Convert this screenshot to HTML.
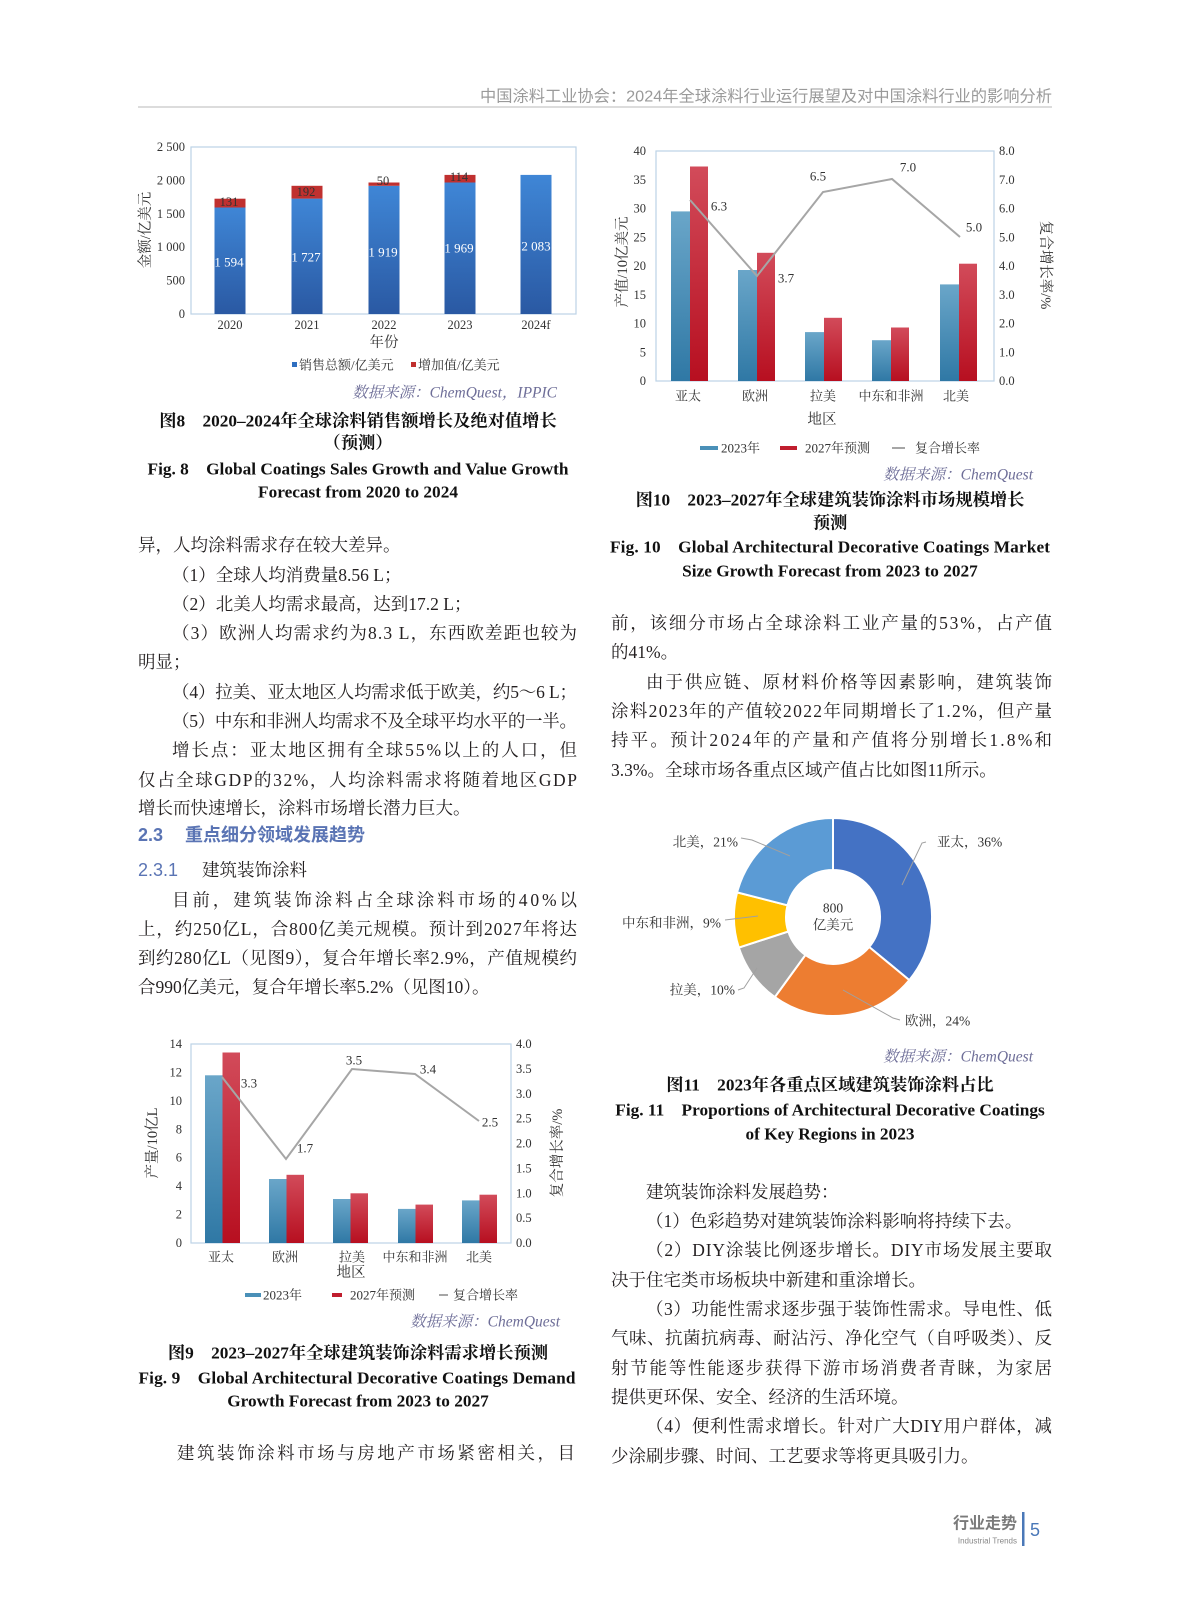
<!DOCTYPE html>
<html><head><meta charset="utf-8">
<style>
html,body{margin:0;padding:0;background:#fff;}
svg{display:block;}
.b{font-family:"Liberation Serif","Noto Serif CJK SC",serif;font-size:17.5px;fill:#231f20;}
.s{font-family:"Liberation Serif","Noto Serif CJK SC",serif;font-size:12.5px;fill:#333;}
.cap{font-family:"Liberation Serif","Noto Serif CJK SC",serif;font-size:17.3px;font-weight:bold;fill:#111;}
.src{font-family:"Liberation Serif","Noto Serif CJK SC",serif;font-size:15.5px;fill:#6e6e98;font-style:italic;}
.h{font-family:"Liberation Sans","Noto Sans CJK SC",sans-serif;}
</style></head>
<body>
<svg width="1187" height="1600" viewBox="0 0 1187 1600" xmlns="http://www.w3.org/2000/svg">
<defs>
<linearGradient id="gb8" x1="0" y1="0" x2="0" y2="1"><stop offset="0" stop-color="#3f86d6"/><stop offset="1" stop-color="#2a59a3"/></linearGradient>
<linearGradient id="gbl" x1="0" y1="0" x2="0" y2="1"><stop offset="0" stop-color="#6aa6c9"/><stop offset="1" stop-color="#2f78a5"/></linearGradient>
<linearGradient id="grd" x1="0" y1="0" x2="0" y2="1"><stop offset="0" stop-color="#d24b5a"/><stop offset="1" stop-color="#b70f20"/></linearGradient>
</defs>

<!-- header -->
<text x="1052" y="97" text-anchor="end" dominant-baseline="central" class="h" font-size="16" fill="#9a9a9a" textLength="572" lengthAdjust="spacingAndGlyphs">中国涂料工业协会：2024年全球涂料行业运行展望及对中国涂料行业的影响分析</text>
<line x1="138" y1="107" x2="1052" y2="107" stroke="#d0d0d0" stroke-width="1.5"/>

<!-- ============ FIG 8 ============ -->
<rect x="191" y="147" width="385" height="167" fill="none" stroke="#bcd3e6" stroke-width="1.2"/>
<g class="s" text-anchor="end" dominant-baseline="central">
<text x="185" y="147">2 500</text><text x="185" y="180.4">2 000</text><text x="185" y="213.8">1 500</text>
<text x="185" y="247.2">1 000</text><text x="185" y="280.6">500</text><text x="185" y="314">0</text>
</g>
<g>
<rect x="214.5" y="207.5" width="31" height="106.5" fill="url(#gb8)"/><rect x="214.5" y="198.7" width="31" height="8.8" fill="#c0302f"/>
<rect x="291.5" y="198.6" width="31" height="115.4" fill="url(#gb8)"/><rect x="291.5" y="185.8" width="31" height="12.8" fill="#c0302f"/>
<rect x="368.5" y="185.8" width="31" height="128.2" fill="url(#gb8)"/><rect x="368.5" y="182.5" width="31" height="3.3" fill="#c0302f"/>
<rect x="444.5" y="182.5" width="31" height="131.5" fill="url(#gb8)"/><rect x="444.5" y="174.9" width="31" height="7.6" fill="#c0302f"/>
<rect x="520.5" y="174.9" width="31" height="139.1" fill="url(#gb8)"/>
</g>
<g class="s" text-anchor="middle" dominant-baseline="central">
<text x="229" y="262" style="fill:#fff;font-size:13px">1 594</text><text x="306" y="257" style="fill:#fff;font-size:13px">1 727</text><text x="383" y="252" style="fill:#fff;font-size:13px">1 919</text><text x="459" y="248" style="fill:#fff;font-size:13px">1 969</text><text x="536" y="246" style="fill:#fff;font-size:13px">2 083</text>
</g>
<g class="s" text-anchor="middle" dominant-baseline="central">
<text x="229" y="202">131</text><text x="306" y="192">192</text><text x="383" y="181">50</text><text x="459" y="177">114</text>
<text x="230" y="325">2020</text><text x="307" y="325">2021</text><text x="384" y="325">2022</text><text x="460" y="325">2023</text><text x="536" y="325">2024f</text>
<text x="384" y="343" style="font-size:14.5px">年份</text>
</g>
<text transform="translate(146,230) rotate(-90)" class="s" style="font-size:14.5px" text-anchor="middle" dominant-baseline="central">金额/亿美元</text>
<rect x="292" y="362" width="5" height="5" fill="#2f6fc0"/>
<text x="299" y="365" class="s" style="font-size:13px" dominant-baseline="central">销售总额/亿美元</text>
<rect x="411" y="362" width="5" height="5" fill="#c0302f"/>
<text x="418" y="365" class="s" style="font-size:13px" dominant-baseline="central">增加值/亿美元</text>
<text x="557" y="393" class="src" text-anchor="end" dominant-baseline="central">数据来源：ChemQuest，IPPIC</text>
<text x="358" y="421" class="cap" text-anchor="middle" dominant-baseline="central">图8　2020–2024年全球涂料销售额增长及绝对值增长</text>
<text x="358" y="443" class="cap" text-anchor="middle" dominant-baseline="central">（预测）</text>
<text x="358" y="469" class="cap" text-anchor="middle" dominant-baseline="central">Fig. 8　Global Coatings Sales Growth and Value Growth</text>
<text x="358" y="492" class="cap" text-anchor="middle" dominant-baseline="central">Forecast from 2020 to 2024</text>

<!-- ============ FIG 10 ============ -->
<rect x="656" y="151" width="338" height="230" fill="none" stroke="#bcd3e6" stroke-width="1.2"/>
<g class="s" text-anchor="end" dominant-baseline="central">
<text x="646" y="151">40</text><text x="646" y="179.75">35</text><text x="646" y="208.5">30</text><text x="646" y="237.25">25</text><text x="646" y="266">20</text><text x="646" y="294.75">15</text><text x="646" y="323.5">10</text><text x="646" y="352.25">5</text><text x="646" y="381">0</text>
</g>
<g class="s" dominant-baseline="central">
<text x="999" y="151">8.0</text><text x="999" y="179.75">7.0</text><text x="999" y="208.5">6.0</text><text x="999" y="237.25">5.0</text><text x="999" y="266">4.0</text><text x="999" y="294.75">3.0</text><text x="999" y="323.5">2.0</text><text x="999" y="352.25">1.0</text><text x="999" y="381">0.0</text>
</g>
<g>
<rect x="671" y="211.4" width="19" height="169.6" fill="url(#gbl)"/><rect x="690" y="166.5" width="18" height="214.5" fill="url(#grd)"/>
<rect x="738" y="270" width="19" height="111" fill="url(#gbl)"/><rect x="757" y="252.8" width="18" height="128.2" fill="url(#grd)"/>
<rect x="805" y="332.1" width="19" height="48.9" fill="url(#gbl)"/><rect x="824" y="317.8" width="18" height="63.2" fill="url(#grd)"/>
<rect x="872" y="340.2" width="19" height="40.8" fill="url(#gbl)"/><rect x="891" y="327.5" width="18" height="53.5" fill="url(#grd)"/>
<rect x="940" y="284.4" width="19" height="96.6" fill="url(#gbl)"/><rect x="959" y="263.7" width="18" height="117.3" fill="url(#grd)"/>
</g>
<polyline points="690,200 757,276 823,192 892,179 960,237" fill="none" stroke="#a6a6a6" stroke-width="2"/>
<g class="s" style="font-size:13px" text-anchor="middle" dominant-baseline="central">
<text x="719" y="206">6.3</text><text x="786" y="278">3.7</text><text x="818" y="176">6.5</text><text x="908" y="167">7.0</text><text x="974" y="227">5.0</text>
<text x="688" y="396">亚太</text><text x="755" y="396">欧洲</text><text x="823" y="396">拉美</text><text x="891" y="396">中东和非洲</text><text x="956" y="396">北美</text>
<text x="822" y="420" style="font-size:14.5px">地区</text>
</g>
<text transform="translate(623,262) rotate(-90)" class="s" style="font-size:14.5px" text-anchor="middle" dominant-baseline="central">产值/10亿美元</text>
<text transform="translate(1045,265) rotate(90)" class="s" style="font-size:14.5px" text-anchor="middle" dominant-baseline="central">复合增长率/%</text>
<rect x="700" y="446" width="18" height="4" fill="#4a90b8"/><text x="721" y="448" class="s" style="font-size:13px" dominant-baseline="central">2023年</text>
<rect x="780" y="446" width="17" height="4" fill="#c01e2e"/><text x="805" y="448" class="s" style="font-size:13px" dominant-baseline="central">2027年预测</text>
<rect x="892" y="447" width="13" height="2" fill="#a6a6a6"/><text x="915" y="448" class="s" style="font-size:13px" dominant-baseline="central">复合增长率</text>
<text x="1033" y="475" class="src" text-anchor="end" dominant-baseline="central">数据来源：ChemQuest</text>
<text x="830" y="500" class="cap" text-anchor="middle" dominant-baseline="central">图10　2023–2027年全球建筑装饰涂料市场规模增长</text>
<text x="830" y="523" class="cap" text-anchor="middle" dominant-baseline="central">预测</text>
<text x="830" y="547" class="cap" text-anchor="middle" dominant-baseline="central" textLength="440" lengthAdjust="spacing">Fig. 10　Global Architectural Decorative Coatings Market</text>
<text x="830" y="571" class="cap" text-anchor="middle" dominant-baseline="central">Size Growth Forecast from 2023 to 2027</text>

<!-- ============ PIE FIG 11 ============ -->
<g stroke="#fff" stroke-width="2">
<path d="M833,818 A99,99 0 0 1 909.3,980.1 L869.2,947 A47,47 0 0 0 833,870 Z" fill="#4472c4"/>
<path d="M909.3,980.1 A99,99 0 0 1 774.8,997.1 L805.4,955 A47,47 0 0 0 869.2,947 Z" fill="#ed7d31"/>
<path d="M774.8,997.1 A99,99 0 0 1 738.8,947.6 L788.3,931.5 A47,47 0 0 0 805.4,955 Z" fill="#a5a5a5"/>
<path d="M738.8,947.6 A99,99 0 0 1 737.1,892.4 L787.5,905.3 A47,47 0 0 0 788.3,931.5 Z" fill="#ffc000"/>
<path d="M737.1,892.4 A99,99 0 0 1 833,818 L833,870 A47,47 0 0 0 787.5,905.3 Z" fill="#5b9bd5"/>
</g>
<g stroke="#a0a0a0" stroke-width="1" fill="none">
<polyline points="741,838 752,840 790,856"/>
<polyline points="926,842 922,843 902,885"/>
<polyline points="725,920 758,916"/>
<polyline points="738,990 744,988 757,968"/>
<polyline points="900,1020 893,1018 843,990"/>
</g>
<g class="s" style="font-size:13.5px" dominant-baseline="central">
<text x="738" y="842" text-anchor="end">北美，21%</text>
<text x="937" y="842">亚太，36%</text>
<text x="721" y="923" text-anchor="end">中东和非洲，9%</text>
<text x="735" y="990" text-anchor="end">拉美，10%</text>
<text x="905" y="1021">欧洲，24%</text>
<text x="833" y="908" text-anchor="middle">800</text>
<text x="833" y="925" text-anchor="middle">亿美元</text>
</g>
<text x="1033" y="1057" class="src" text-anchor="end" dominant-baseline="central">数据来源：ChemQuest</text>
<text x="830" y="1085" class="cap" text-anchor="middle" dominant-baseline="central">图11　2023年各重点区域建筑装饰涂料占比</text>
<text x="830" y="1110" class="cap" text-anchor="middle" dominant-baseline="central">Fig. 11　Proportions of Architectural Decorative Coatings</text>
<text x="830" y="1134" class="cap" text-anchor="middle" dominant-baseline="central">of Key Regions in 2023</text>

<!-- ============ FIG 9 ============ -->
<rect x="191" y="1044" width="320" height="199" fill="none" stroke="#bcd3e6" stroke-width="1.2"/>
<g class="s" text-anchor="end" dominant-baseline="central">
<text x="182" y="1044">14</text><text x="182" y="1072.4">12</text><text x="182" y="1100.9">10</text><text x="182" y="1129.3">8</text><text x="182" y="1157.7">6</text><text x="182" y="1186.1">4</text><text x="182" y="1214.6">2</text><text x="182" y="1243">0</text>
</g>
<g class="s" dominant-baseline="central">
<text x="516" y="1044">4.0</text><text x="516" y="1068.9">3.5</text><text x="516" y="1093.8">3.0</text><text x="516" y="1118.6">2.5</text><text x="516" y="1143.5">2.0</text><text x="516" y="1168.4">1.5</text><text x="516" y="1193.3">1.0</text><text x="516" y="1218.1">0.5</text><text x="516" y="1243">0.0</text>
</g>
<g>
<rect x="205" y="1075.3" width="17.5" height="167.7" fill="url(#gbl)"/><rect x="222.5" y="1052.5" width="17.5" height="190.5" fill="url(#grd)"/>
<rect x="269" y="1179" width="17.5" height="64" fill="url(#gbl)"/><rect x="286.5" y="1174.8" width="17.5" height="68.2" fill="url(#grd)"/>
<rect x="333" y="1199" width="17.5" height="44" fill="url(#gbl)"/><rect x="350.5" y="1193.3" width="17.5" height="49.7" fill="url(#grd)"/>
<rect x="398" y="1208.9" width="17.5" height="34.1" fill="url(#gbl)"/><rect x="415.5" y="1204.6" width="17.5" height="38.4" fill="url(#grd)"/>
<rect x="462" y="1200.4" width="17.5" height="42.6" fill="url(#gbl)"/><rect x="479.5" y="1194.7" width="17.5" height="48.3" fill="url(#grd)"/>
</g>
<polyline points="222,1077 286,1159 352,1069 415,1074 479,1121" fill="none" stroke="#a6a6a6" stroke-width="2"/>
<g class="s" style="font-size:13px" text-anchor="middle" dominant-baseline="central">
<text x="249" y="1083">3.3</text><text x="305" y="1148">1.7</text><text x="354" y="1060">3.5</text><text x="428" y="1069">3.4</text><text x="490" y="1122">2.5</text>
<text x="221" y="1257">亚太</text><text x="285" y="1257">欧洲</text><text x="352" y="1257">拉美</text><text x="415" y="1257">中东和非洲</text><text x="479" y="1257">北美</text>
<text x="351" y="1273" style="font-size:14.5px">地区</text>
</g>
<text transform="translate(153,1143) rotate(-90)" class="s" style="font-size:14.5px" text-anchor="middle" dominant-baseline="central">产量/10亿L</text>
<text transform="translate(558,1153) rotate(-90)" class="s" style="font-size:14.5px" text-anchor="middle" dominant-baseline="central">复合增长率/%</text>
<rect x="245" y="1293" width="16" height="4" fill="#4a90b8"/><text x="263" y="1295" class="s" style="font-size:13px" dominant-baseline="central">2023年</text>
<rect x="332" y="1293" width="10" height="4" fill="#c01e2e"/><text x="350" y="1295" class="s" style="font-size:13px" dominant-baseline="central">2027年预测</text>
<rect x="439" y="1294" width="9" height="2" fill="#a6a6a6"/><text x="453" y="1295" class="s" style="font-size:13px" dominant-baseline="central">复合增长率</text>
<text x="560" y="1322" class="src" text-anchor="end" dominant-baseline="central">数据来源：ChemQuest</text>
<text x="358" y="1353" class="cap" text-anchor="middle" dominant-baseline="central">图9　2023–2027年全球建筑装饰涂料需求增长预测</text>
<text x="357" y="1378" class="cap" text-anchor="middle" dominant-baseline="central" textLength="437" lengthAdjust="spacing">Fig. 9　Global Architectural Decorative Coatings Demand</text>
<text x="358" y="1401" class="cap" text-anchor="middle" dominant-baseline="central">Growth Forecast from 2023 to 2027</text>

<!-- ============ LEFT BODY TEXT ============ -->
<g class="b" dominant-baseline="central">
<text x="138" y="545">异，人均涂料需求存在较大差异。</text>
<text x="172" y="575">（1）全球人均消费量8.56 L；</text>
<text x="172" y="604">（2）北美人均需求最高，达到17.2 L；</text>
<text x="172" y="633" textLength="405" lengthAdjust="spacing">（3）欧洲人均需求约为8.3 L，东西欧差距也较为</text>
<text x="138" y="662">明显；</text>
<text x="172" y="692" textLength="405" lengthAdjust="spacing">（4）拉美、亚太地区人均需求低于欧美，约5～6 L；</text>
<text x="172" y="721" textLength="405" lengthAdjust="spacing">（5）中东和非洲人均需求不及全球平均水平的一半。</text>
<text x="172" y="750" textLength="405" lengthAdjust="spacing">增长点：亚太地区拥有全球55%以上的人口，但</text>
<text x="138" y="780" textLength="439" lengthAdjust="spacing">仅占全球GDP的32%，人均涂料需求将随着地区GDP</text>
<text x="138" y="808">增长而快速增长，涂料市场增长潜力巨大。</text>
<text x="172" y="900" textLength="405" lengthAdjust="spacing">目前，建筑装饰涂料占全球涂料市场的40%以</text>
<text x="138" y="929" textLength="439" lengthAdjust="spacing">上，约250亿L，合800亿美元规模。预计到2027年将达</text>
<text x="138" y="958" textLength="439" lengthAdjust="spacing">到约280亿L（见图9），复合年增长率2.9%，产值规模约</text>
<text x="138" y="987">合990亿美元，复合年增长率5.2%（见图10）。</text>
<text x="177" y="1453" textLength="398" lengthAdjust="spacing">建筑装饰涂料市场与房地产市场紧密相关，目</text>
</g>
<text x="138" y="835" class="h" font-size="18" font-weight="bold" fill="#5a74b4" dominant-baseline="central">2.3</text>
<text x="185" y="835" class="h" font-size="18" font-weight="bold" fill="#5a74b4" dominant-baseline="central">重点细分领域发展趋势</text>
<text x="138" y="870" class="h" font-size="18" fill="#5a74b4" dominant-baseline="central">2.3.1</text>
<text x="202" y="870" class="b" dominant-baseline="central">建筑装饰涂料</text>

<!-- ============ RIGHT BODY TEXT ============ -->
<g class="b" dominant-baseline="central">
<text x="611" y="623" textLength="441" lengthAdjust="spacing">前，该细分市场占全球涂料工业产量的53%，占产值</text>
<text x="611" y="652">的41%。</text>
<text x="646" y="682" textLength="406" lengthAdjust="spacing">由于供应链、原材料价格等因素影响，建筑装饰</text>
<text x="611" y="711" textLength="441" lengthAdjust="spacing">涂料2023年的产值较2022年同期增长了1.2%，但产量</text>
<text x="611" y="740" textLength="441" lengthAdjust="spacing">持平。预计2024年的产量和产值将分别增长1.8%和</text>
<text x="611" y="770">3.3%。全球市场各重点区域产值占比如图11所示。</text>
<text x="646" y="1192">建筑装饰涂料发展趋势：</text>
<text x="646" y="1221">（1）色彩趋势对建筑装饰涂料影响将持续下去。</text>
<text x="646" y="1250" textLength="406" lengthAdjust="spacing">（2）DIY涂装比例逐步增长。DIY市场发展主要取</text>
<text x="611" y="1280">决于住宅类市场板块中新建和重涂增长。</text>
<text x="646" y="1309" textLength="406" lengthAdjust="spacing">（3）功能性需求逐步强于装饰性需求。导电性、低</text>
<text x="611" y="1338" textLength="441" lengthAdjust="spacing">气味、抗菌抗病毒、耐沾污、净化空气（自呼吸类）、反</text>
<text x="611" y="1368" textLength="441" lengthAdjust="spacing">射节能等性能逐步获得下游市场消费者青睐，为家居</text>
<text x="611" y="1397">提供更环保、安全、经济的生活环境。</text>
<text x="646" y="1426" textLength="406" lengthAdjust="spacing">（4）便利性需求增长。针对广大DIY用户群体，减</text>
<text x="611" y="1456">少涂刷步骤、时间、工艺要求等将更具吸引力。</text>
</g>

<!-- footer -->
<text x="1017" y="1524" text-anchor="end" class="h" font-size="16" font-weight="bold" fill="#7a7a7a" dominant-baseline="central">行业走势</text>
<text x="1017" y="1541" text-anchor="end" class="h" font-size="8" fill="#888" dominant-baseline="central">Industrial Trends</text>
<rect x="1022" y="1512" width="2.5" height="34" fill="#4a78b8"/>
<text x="1030" y="1530" class="h" font-size="18" fill="#4a78b8" dominant-baseline="central">5</text>
</svg>
</body></html>
